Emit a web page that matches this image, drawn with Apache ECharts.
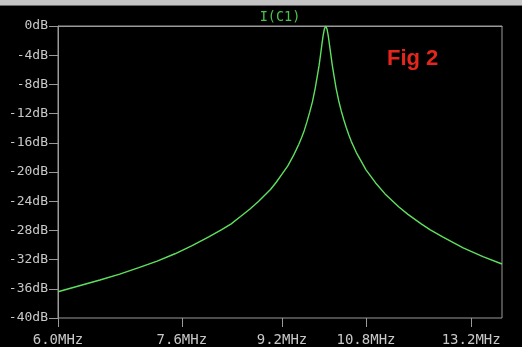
<!DOCTYPE html>
<html>
<head>
<meta charset="utf-8">
<script src="https://cdn.jsdelivr.net/npm/echarts@6/dist/echarts.min.js"></script>
<style>html,body{margin:0;padding:0;background:#000;}#c{width:522px;height:347px;}</style>
</head>
<body>
<div id="c"></div>
<script>
// Frequency (MHz) and current magnitude (dB)
const freqMHz = [6.0, 6.5, 6.75, 7.0, 7.25, 7.5, 7.75, 8.0, 8.2, 8.35, 8.5, 8.65, 8.8, 9.0, 9.1, 9.2, 9.3, 9.4, 9.45, 9.5, 9.55, 9.6, 9.65, 9.7, 9.75, 9.8, 9.85, 9.875, 9.9, 9.925, 9.95, 9.975, 10.0, 10.025, 10.05, 10.075, 10.1, 10.125, 10.15, 10.2, 10.25, 10.3, 10.35, 10.4, 10.45, 10.5, 10.6, 10.7, 10.8, 10.9, 11.0, 11.2, 11.5, 11.7, 12.0, 12.2, 12.5, 13.0, 13.5, 14.0];
const currentDb = [-36.4, -34.8, -34.0, -33.1, -32.2, -31.2, -30.1, -28.9, -27.9, -27.1, -26.1, -25.1, -24.0, -22.4, -21.4, -20.3, -19.2, -17.8, -17.0, -16.2, -15.3, -14.3, -13.1, -11.8, -10.4, -8.6, -6.5, -5.4, -4.1, -2.7, -1.4, -0.4, 0.0, -0.4, -1.4, -2.7, -4.0, -5.3, -6.4, -8.5, -10.2, -11.6, -12.8, -13.9, -14.9, -15.8, -17.3, -18.5, -19.7, -20.6, -21.5, -23.0, -24.8, -25.8, -27.1, -27.9, -28.9, -30.4, -31.6, -32.6];
const xTickValues = [6.0, 7.6, 9.2, 10.8, 13.2];
const yTickLabels = ['0dB','-4dB','-8dB','-12dB','-16dB','-20dB','-24dB','-28dB','-32dB','-36dB','-40dB'];
const seriesName = 'I(C1)';
const figLabel = 'Fig 2';

const chart = echarts.init(document.getElementById('c'), null, {renderer: 'canvas'});
const axisGray = '#9a9a9a';
const labelGray = '#c8c8c8';
const mono = '"DejaVu Sans Mono", monospace';

const baseGraphic = [
  {type: 'rect', shape: {x: 0, y: 0, width: 522, height: 5}, style: {fill: '#c4c4c4'}, silent: true},
  {type: 'rect', shape: {x: 0, y: 5, width: 522, height: 1}, style: {fill: '#6a6a6a'}, silent: true},
  {type: 'text', x: 280, y: 17, style: {text: seriesName, fill: '#4cc24c', font: '13.5px ' + mono, align: 'center', verticalAlign: 'middle'}},
  {type: 'text', x: 387, y: 59, style: {text: figLabel, fill: '#e5261c', font: 'bold 22px "Liberation Sans", Arial, sans-serif', align: 'left', verticalAlign: 'middle'}}
];

chart.setOption({
  backgroundColor: '#000',
  animation: false,
  grid: {left: 58, right: 20, top: 26, bottom: 29, show: true, borderColor: axisGray, borderWidth: 1},
  xAxis: {
    type: 'log', logBase: 10, min: 6, max: 14,
    axisLine: {show: true, lineStyle: {color: axisGray}},
    axisTick: {show: false},
    axisLabel: {color: labelGray, fontFamily: mono, fontSize: 14, margin: 15, customValues: xTickValues,
      formatter: v => Number(v).toFixed(1) + 'MHz'},
    splitLine: {show: false}, minorTick: {show: false}
  },
  yAxis: {
    type: 'value', min: -40, max: 0, interval: 4,
    axisLine: {show: true, lineStyle: {color: axisGray}},
    axisTick: {show: true, inside: false, length: 9, lineStyle: {color: axisGray}},
    axisLabel: {color: labelGray, fontFamily: mono, fontSize: 13, margin: 10,
      formatter: v => yTickLabels[Math.round(-v / 4)]},
    splitLine: {show: false}
  },
  series: [{
    name: seriesName, type: 'line', showSymbol: false, smooth: false,
    data: freqMHz.map((f, i) => [f, currentDb[i]]),
    lineStyle: {color: '#5ee05e', width: 1.4}
  }],
  graphic: baseGraphic
});

// x-axis tick marks placed through the axis scale
const yBottom = chart.convertToPixel({yAxisIndex: 0}, -40);
const tickGraphic = xTickValues.map(v => {
  const px = Math.round(chart.convertToPixel({xAxisIndex: 0}, v)) + 0.5;
  return {type: 'line', shape: {x1: px, y1: yBottom, x2: px, y2: yBottom + 9}, style: {stroke: axisGray, lineWidth: 1}, silent: true};
});
chart.setOption({graphic: baseGraphic.concat(tickGraphic)});
</script>
</body>
</html>
